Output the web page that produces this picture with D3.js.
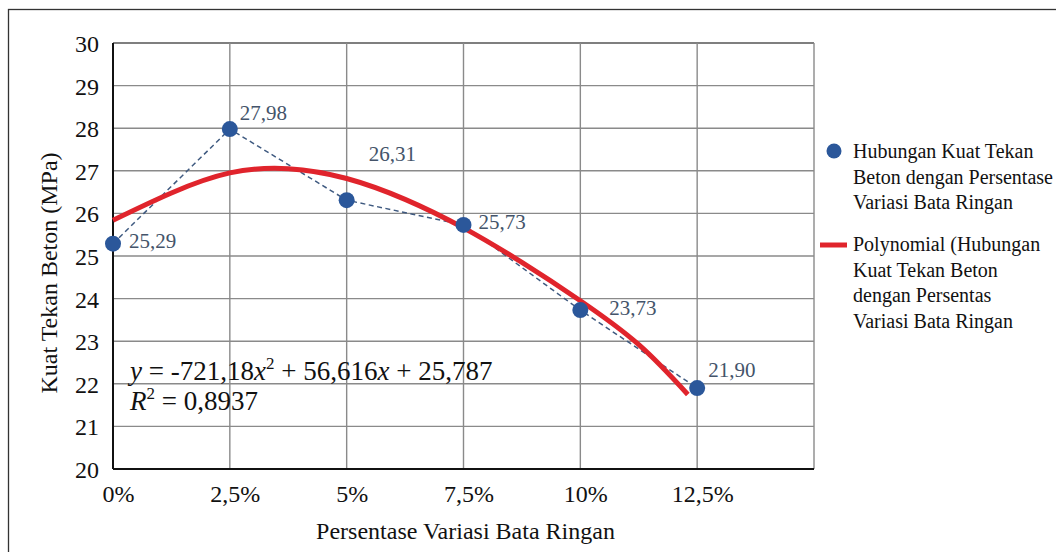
<!DOCTYPE html>
<html>
<head>
<meta charset="utf-8">
<script src="https://cdn.jsdelivr.net/npm/d3@7"></script>
<style>
  html, body { margin: 0; padding: 0; background: #ffffff; }
  svg { display: block; }
</style>
</head>
<body>
<svg id="chart" width="1056" height="552"></svg>
<script>
// ---- data ----
const categories = ["0%", "2,5%", "5%", "7,5%", "10%", "12,5%"];
const xValues = [0, 0.025, 0.05, 0.075, 0.1, 0.125];
const strength = [25.29, 27.98, 26.31, 25.73, 23.73, 21.90];
const valueLabels = ["25,29", "27,98", "26,31", "25,73", "23,73", "21,90"];
const yTicks = [20, 21, 22, 23, 24, 25, 26, 27, 28, 29, 30];
// polynomial trendline
const trendX = [0, 0.0125, 0.025, 0.0375, 0.05, 0.0625, 0.075, 0.0875, 0.1, 0.1125, 0.123];
const trendY = [25.84, 26.48, 26.95, 27.05, 26.82, 26.33, 25.66, 24.85, 23.95, 22.92, 21.75];
const legendItems = [
  ["Hubungan Kuat Tekan", "Beton dengan Persentase", "Variasi Bata Ringan"],
  ["Polynomial (Hubungan", "Kuat Tekan Beton", "dengan Persentas", "Variasi Bata Ringan"]
];
const equationText = { a: "-721,18", b: "56,616", c: "25,787", r2: "0,8937" };

// label placement (pixels relative to point)
const labelDx = [16, 10, 22, 15, 29, 11];
const labelDy = [4, -9, -39, 4, 5, -11];

(function () {
const FONT = "Liberation Serif";
const svg = d3.select("#chart");
const pL = 113, pR = 814, pT = 43, pB = 469;

const x = d3.scaleLinear().domain([0, 0.15]).range([pL, pR]);
const y = d3.scaleLinear().domain([20, 30]).range([pB, pT]);

function txt(sel) {
  return sel.attr("font-family", FONT).style("font-family", '"Liberation Serif", monospace');
}

// outer frame
svg.append("rect")
  .attr("x", 8.5).attr("y", 9.5).attr("width", 1060).attr("height", 560)
  .attr("fill", "none").attr("stroke", "#333").attr("stroke-width", 1.3);

// horizontal gridlines
svg.append("g").selectAll("line").data(yTicks.filter(d => d > 20)).join("line")
  .attr("x1", pL).attr("x2", pR)
  .attr("y1", d => y(d)).attr("y2", d => y(d))
  .attr("stroke", d => d === 30 ? "#555" : "#8a8a8a").attr("stroke-width", 1.4);

// vertical gridlines
const vGrid = xValues.slice(1).concat([0.15]);
svg.append("g").selectAll("line").data(vGrid).join("line")
  .attr("x1", d => x(d)).attr("x2", d => x(d))
  .attr("y1", pT).attr("y2", pB)
  .attr("stroke", "#8a8a8a").attr("stroke-width", 1.4);

// axes lines
svg.append("line").attr("x1", pL).attr("x2", pL).attr("y1", pT).attr("y2", pB)
  .attr("stroke", "#111").attr("stroke-width", 2);
svg.append("line").attr("x1", pL).attr("x2", pR).attr("y1", pB).attr("y2", pB)
  .attr("stroke", "#111").attr("stroke-width", 2);

// y tick labels
const yAxis = d3.axisLeft(y).tickValues(yTicks).tickFormat(d3.format("d")).tickSize(0).tickPadding(14);
const gy = svg.append("g").attr("transform", `translate(${pL},0)`).call(yAxis);
gy.attr("font-family", FONT);
gy.select(".domain").remove();
txt(gy.selectAll("text")).attr("font-size", 24).attr("fill", "#111").attr("dy", "0.35em");

// x tick labels
const xAxis = d3.axisBottom(x).tickValues(xValues).tickFormat((d, i) => categories[i]).tickSize(0).tickPadding(16);
const gx = svg.append("g").attr("transform", `translate(0,${pB})`).call(xAxis);
gx.attr("font-family", FONT);
gx.select(".domain").remove();
txt(gx.selectAll("text")).attr("font-size", 24).attr("fill", "#111").attr("dx", 5);

// axis titles
txt(svg.append("text")).attr("x", (pL + pR) / 2 + 2).attr("y", 539)
  .attr("text-anchor", "middle").attr("font-size", 24).attr("fill", "#111")
  .text("Persentase Variasi Bata Ringan");
txt(svg.append("text")).attr("transform", "translate(57,273) rotate(-90)")
  .attr("text-anchor", "middle").attr("font-size", 24).attr("fill", "#111")
  .text("Kuat Tekan Beton (MPa)");

// dashed connecting line
const pts = xValues.map((d, i) => [d, strength[i]]);
svg.append("path").datum(pts)
  .attr("d", d3.line().x(d => x(d[0])).y(d => y(d[1])))
  .attr("fill", "none").attr("stroke", "#3f5a80").attr("stroke-width", 1.5)
  .attr("stroke-dasharray", "5,3.5");

// trendline
const tr = trendX.map((d, i) => [d, trendY[i]]);
svg.append("path").datum(tr)
  .attr("d", d3.line().curve(d3.curveNatural).x(d => x(d[0])).y(d => y(d[1])))
  .attr("fill", "none").attr("stroke", "#e0242c").attr("stroke-width", 5);

// points
svg.append("g").selectAll("circle").data(pts).join("circle")
  .attr("cx", d => x(d[0])).attr("cy", d => y(d[1])).attr("r", 8)
  .attr("fill", "#2b579a");

// value labels
txt(svg.append("g").selectAll("text").data(pts).join("text"))
  .attr("x", (d, i) => x(d[0]) + labelDx[i])
  .attr("y", (d, i) => y(d[1]) + labelDy[i])
  .attr("font-size", 21).attr("fill", "#44546a")
  .text((d, i) => valueLabels[i]);

// equation
const eq = txt(svg.append("text")).attr("x", 130).attr("y", 380).attr("font-size", 27).attr("fill", "#111");
eq.append("tspan").attr("font-style", "italic").text("y");
eq.append("tspan").text(` = ${equationText.a}`);
eq.append("tspan").attr("font-style", "italic").text("x");
eq.append("tspan").attr("font-size", 17).attr("dy", -11).text("2");
eq.append("tspan").attr("dy", 11).text(` + ${equationText.b}`);
eq.append("tspan").attr("font-style", "italic").text("x");
eq.append("tspan").text(` + ${equationText.c}`);

const r2 = txt(svg.append("text")).attr("x", 130).attr("y", 410).attr("font-size", 27).attr("fill", "#111");
r2.append("tspan").attr("font-style", "italic").text("R");
r2.append("tspan").attr("font-size", 17).attr("dy", -11).text("2");
r2.append("tspan").attr("dy", 11).text(` = ${equationText.r2}`);

// legend
const lg = svg.append("g");
lg.append("circle").attr("cx", 834).attr("cy", 151).attr("r", 7.5).attr("fill", "#2b579a");
txt(lg.append("text")).attr("x", 853).attr("y", 158).attr("font-size", 20).attr("fill", "#111")
  .selectAll("tspan").data(legendItems[0]).join("tspan")
  .attr("x", 853).attr("dy", (d, i) => i === 0 ? 0 : 25.5).text(d => d);
lg.append("line").attr("x1", 820).attr("x2", 847).attr("y1", 245).attr("y2", 245)
  .attr("stroke", "#e0242c").attr("stroke-width", 5);
txt(lg.append("text")).attr("x", 853).attr("y", 251).attr("font-size", 20).attr("fill", "#111")
  .selectAll("tspan").data(legendItems[1]).join("tspan")
  .attr("x", 853).attr("dy", (d, i) => i === 0 ? 0 : 25.5).text(d => d);
})();
</script>
</body>
</html>
